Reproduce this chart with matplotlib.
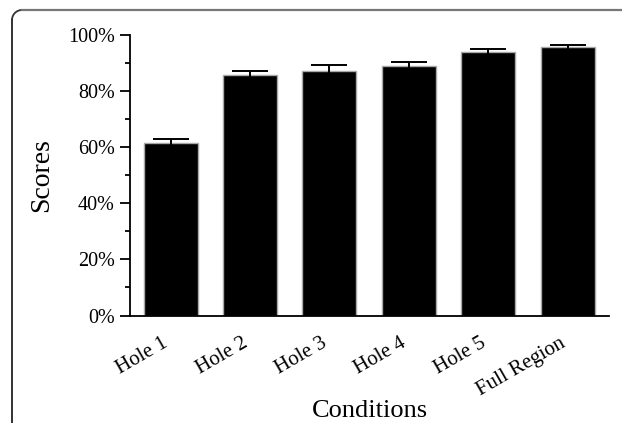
import numpy as np
import matplotlib.pyplot as plt
from matplotlib.patches import Arc
from matplotlib.lines import Line2D
from matplotlib.ticker import MultipleLocator, PercentFormatter

# data
conditions = ["Hole 1", "Hole 2", "Hole 3", "Hole 4", "Hole 5", "Full Region"]
scores = [61.5, 85.7, 87.3, 89.0, 93.8, 95.6]
errors = [1.5, 1.4, 1.9, 1.4, 1.2, 0.9]

plt.rcParams['font.family'] = ['Liberation Serif', 'DejaVu Serif']

W, H = 622, 423
fig = plt.figure(figsize=(W / 100, H / 100), dpi=100)
ax = fig.add_axes([130 / W, 1 - 315.5 / H, (609 - 130) / W, (315.5 - 35) / H])

x = np.arange(len(conditions))
ax.bar(x, scores, width=0.68, color='black', edgecolor='#a8a8a8', linewidth=1.0,
       yerr=errors, capsize=13, error_kw=dict(ecolor='black', elinewidth=1.4, capthick=1.4))

ax.set_xlim(-0.51, 5.52)
ax.set_ylim(0, 100)
ax.yaxis.set_major_locator(MultipleLocator(20))
ax.yaxis.set_minor_locator(MultipleLocator(10))
ax.yaxis.set_major_formatter(PercentFormatter(decimals=0))

# x ticks are invisible (length 0); placed slightly left so the rotated labels end under the bar
ax.set_xticks(x - 0.05)
ax.set_xticklabels(conditions, rotation=30, ha='right', va='center',
                   rotation_mode='anchor', fontsize=15)
ax.tick_params(axis='x', length=0, pad=19)
ax.tick_params(axis='y', which='major', length=7, width=1.3, labelsize=14.5, pad=4)
ax.tick_params(axis='y', which='minor', length=3.5, width=1.3)

for side in ['top', 'right']:
    ax.spines[side].set_visible(False)
for side in ['left', 'bottom']:
    ax.spines[side].set_linewidth(1.3)

ax.set_ylabel("Scores", fontsize=20, labelpad=10)
ax.set_xlabel("Conditions", fontsize=19, labelpad=0)

# rounded page frame around the figure (top-left corner visible)
r = 10
fl, ft = 12, 10
fig.add_artist(Line2D([fl / W, fl / W], [0, 1 - (ft + r) / H], color='#222222', lw=1.3))
fig.add_artist(Line2D([(fl + r) / W, 1], [1 - ft / H, 1 - ft / H], color='#777777', lw=1.6))
fig.add_artist(Arc(((fl + r) / W, 1 - (ft + r) / H), 2 * r / W, 2 * r / H,
                   theta1=90, theta2=180, transform=fig.transFigure,
                   color='#333333', lw=1.3))

fig.savefig("out.png", dpi=100)
